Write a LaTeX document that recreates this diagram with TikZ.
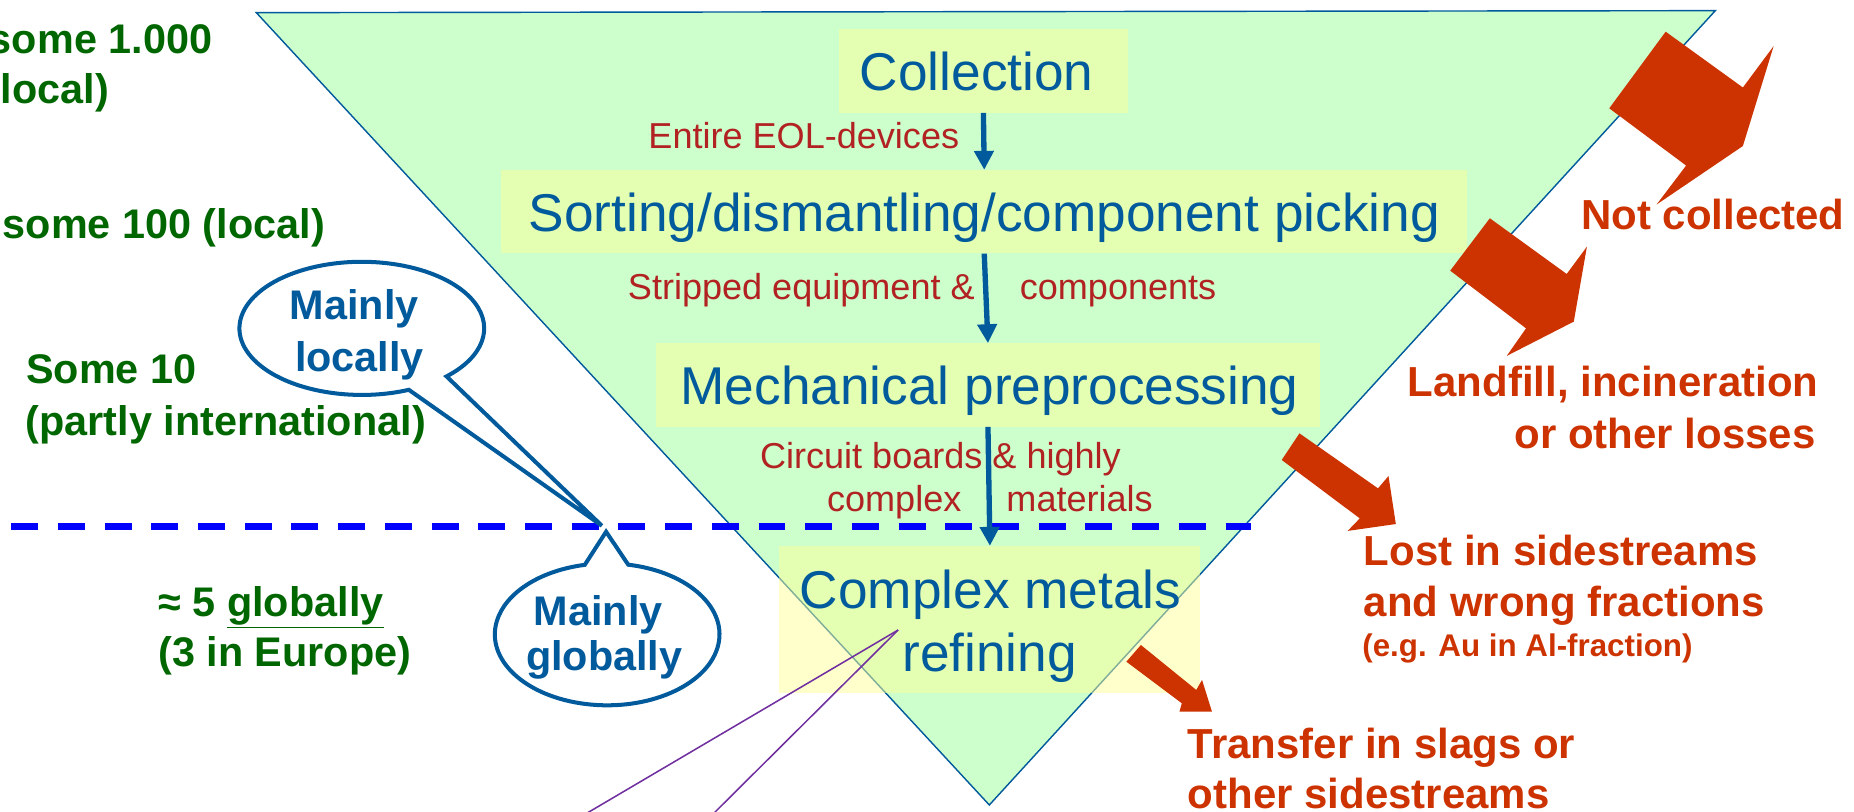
\documentclass[tikz,border=0pt]{standalone}
\usepackage{fontspec}
\setmainfont{Liberation Sans}
\usetikzlibrary{arrows.meta,calc}
\definecolor{trifill}{HTML}{CCFFCC}
\definecolor{triline}{HTML}{005A9C}
\definecolor{boxy}{HTML}{FFFF99}
\definecolor{bluetxt}{HTML}{005A9C}
\definecolor{flowred}{HTML}{B22222}
\definecolor{orng}{HTML}{CC3300}
\definecolor{grn}{HTML}{006600}
\definecolor{purp}{HTML}{7030A0}
\definecolor{dashblue}{HTML}{0000FF}
\newcommand\szbox{\fontsize{45}{54}\selectfont}
\newcommand\szflow{\fontsize{30.5}{36}\selectfont}
\newcommand\szgrn{\bfseries\fontsize{35}{42}\selectfont}
\newcommand\szloss{\bfseries\fontsize{35.5}{42}\selectfont}
\newcommand\szsmall{\bfseries\fontsize{26.5}{32}\selectfont}
\newcommand\szbub{\bfseries\fontsize{35}{42}\selectfont}
\begin{document}
\begin{tikzpicture}[x=1pt,y=-1pt,
  stagebox/.style={fill=boxy, fill opacity=0.5, draw=none, inner sep=0pt},
  stagetxt/.style={text=bluetxt, font=\szbox, inner sep=0pt, anchor=base},
  flowtxt/.style={text=flowred, font=\szflow, inner sep=0pt},
  grntxt/.style={text=grn, font=\szgrn, inner sep=0pt},
  losstxt/.style={text=orng, font=\szloss, inner sep=0pt},
  smalltxt/.style={text=orng, font=\szsmall, inner sep=0pt},
  bubtxt/.style={text=bluetxt, font=\szbub, inner sep=0pt, anchor=base},
  flowarrow/.style={draw=bluetxt, line width=4.5pt, -{Triangle[length=16pt,width=16pt]}},
  bubble/.style={draw=bluetxt, line width=3.4pt, fill=white, line join=miter},
  lossarrow/.style={fill=orng, draw=none},
  dashline/.style={draw=dashblue, line width=5.6pt, dash pattern=on 22.8pt off 16.7pt},
  pointer/.style={draw=purp, line width=1.3pt}
]
\useasboundingbox (0,0) rectangle (1568,686);

% funnel
\coordinate (tl) at (216.8,10.7);
\coordinate (tr) at (1450.7,9);
\coordinate (apex) at (836.7,680.8);
\draw[draw=triline, fill=trifill, line width=1.2pt] (tl) -- (tr) -- (apex) -- cycle;

% stage boxes
\node[stagebox, minimum width=244.6pt, minimum height=70.5pt] (coll) at (831.7,60.05) {};
\node[stagebox, minimum width=816.8pt, minimum height=70.5pt] (sort) at (832.4,179.05) {};
\node[stagebox, minimum width=561.9pt, minimum height=70.4pt] (mech) at (835.55,325.6) {};
\node[stagebox, minimum width=356pt, minimum height=124.6pt] (cmr) at (837.2,524.1) {};

\node[stagetxt] (tcoll) at (826,76.3) {Collection};
\node[stagetxt] (tsort) at (832.5,196) {Sorting/dismantling/component picking};
\node[stagetxt] (tmech) at (837,342.5) {Mechanical preprocessing};
\node[stagetxt] (tcmr1) at (837.8,514.5) {Complex metals};
\node[stagetxt] (tcmr2) at (836.9,568) {refining};

% flow labels
\node[flowtxt, anchor=base east] (f1) at (811.4,125.5) {Entire EOL-devices};
\node[flowtxt, anchor=base east] (f2a) at (824.6,253.7) {Stripped equipment \&};
\node[flowtxt, anchor=base west] (f2b) at (862.3,253.7) {components};
\node[flowtxt, anchor=base west] (f3a) at (642.6,396) {Circuit boards \& highly};
\node[flowtxt, anchor=base west] (f3b) at (699.3,432.7) {complex};
\node[flowtxt, anchor=base west] (f3c) at (851,432.7) {materials};

% dashed border local/global
\coordinate (dl) at (9.5,445.4);
\coordinate (dr) at (1058.4,445.4);
\draw[dashline] (dl) -- (dr);

% flow arrows
\draw[flowarrow] (coll.south) -- (sort.north);
\draw[flowarrow] (sort.south) -- (mech.north);
\draw[flowarrow] (mech.south) -- (cmr.north);

% purple pointer lines
\coordinate (pp) at (759.6,532.8);
\coordinate (pe1) at (492.5,690);
\coordinate (pe2) at (601.5,690);
\draw[pointer] (pp) -- (pe1);
\draw[pointer] (pp) -- (pe2);

% loss arrows
\fill[lossarrow] (1408.7,26.8) -- (1474,74) -- (1500,39) -- (1474,123.5) -- (1401,173) -- (1426,140) -- (1361,91.6) -- cycle;
\fill[lossarrow] (1260,184.6) -- (1325,231.7) -- (1342.1,208.6) -- (1331,272) -- (1274.3,301) -- (1290.6,277.7) -- (1226.5,228.9) -- cycle;
\fill[lossarrow] (1099,366.5) -- (1165.4,413) -- (1174.3,402.6) -- (1180.5,443.2) -- (1139.8,449) -- (1150,438.4) -- (1084,389) -- cycle;
\fill[lossarrow] (964.9,545.5) -- (1011.7,583.5) -- (1016.6,575) -- (1025,601.9) -- (997.5,601.9) -- (999.5,594.8) -- (952.6,559.6) -- cycle;

% loss labels
\node[losstxt, anchor=base west] (l1) at (1337,194.5) {Not collected};
\node[losstxt, anchor=base east] (l2a) at (1538,335.5) {Landfill, incineration};
\node[losstxt, anchor=base east] (l2b) at (1535.7,379) {or other losses};
\node[losstxt, anchor=base west] (l3a) at (1153.2,478) {Lost in sidestreams};
\node[losstxt, anchor=base west] (l3b) at (1153.2,521.5) {and wrong fractions};
\node[smalltxt, anchor=base west] (l3c) at (1152,555.4) {(e.g. Au in Al-fraction)};
\node[losstxt, anchor=base west] (l4a) at (1004.4,641.4) {Transfer in slags or};
\node[losstxt, anchor=base west] (l4b) at (1004.4,683.6) {other sidestreams};

% left-hand numbers
\node[grntxt, anchor=base east] (g1a) at (179.6,45) {some 1.000};
\node[grntxt, anchor=base east] (g1b) at (92.2,87.4) {local)};
\node[grntxt, anchor=base east] (g2) at (275,201.6) {some 100 (local)};
\node[grntxt, anchor=base west] (g3a) at (22,324) {Some 10};
\node[grntxt, anchor=base west] (g3b) at (21.6,368) {(partly international)};
\node[grntxt, anchor=base west] (g4a) at (133.8,521.5) {≈ 5 \underline{globally}};
\node[grntxt, anchor=base west] (g4b) at (133.8,564) {(3 in Europe)};

% speech bubbles
\coordinate (bl) at (306,277.7);
\coordinate (bltip) at (509,444.6);
\draw[bubble] (bltip) -- ($(bl)+(67.4:103.5 and 56.3)$)
  arc[start angle=67.4, end angle=406.2, x radius=103.5, y radius=56.3] -- cycle;
\node[bubtxt] (b1a) at (299.5,270.6) {Mainly};
\node[bubtxt] (b1b) at (304,314) {locally};

\coordinate (bg) at (513.5,536.5);
\coordinate (bgtip) at (512.6,449.7);
\draw[bubble] (bgtip) -- ($(bg)+(280.8:95 and 60)$)
  arc[start angle=280.8, end angle=618.5, x radius=95, y radius=60] -- cycle;
\node[bubtxt] (b2a) at (506,528.6) {Mainly};
\node[bubtxt] (b2b) at (511,567) {globally};
\end{tikzpicture}
\end{document}
